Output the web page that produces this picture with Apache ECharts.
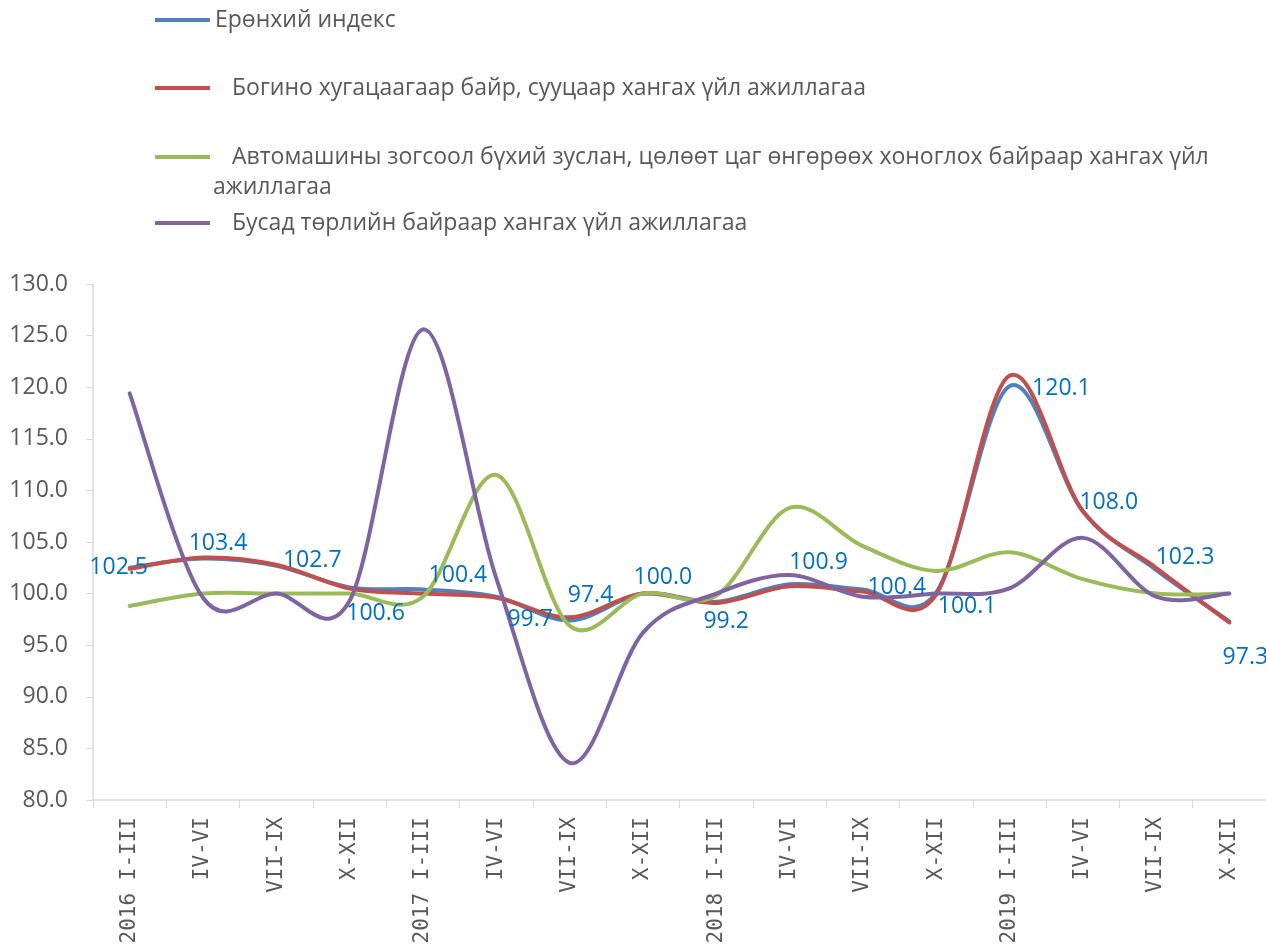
<!DOCTYPE html>
<html>
<head>
<meta charset="utf-8">
<script src="https://cdn.jsdelivr.net/npm/echarts@6/dist/echarts.min.js"></script>
<style>
  html, body { margin: 0; padding: 0; background: #fff; }
  #chart { width: 1266px; height: 947px; }
</style>
</head>
<body>
<div id="chart"></div>
<script>
// categories and series
var categories = ['2016 I-III', 'IV-VI', 'VII-IX', 'X-XII', '2017 I-III', 'IV-VI', 'VII-IX', 'X-XII',
                  '2018 I-III', 'IV-VI', 'VII-IX', 'X-XII', '2019 I-III', 'IV-VI', 'VII-IX', 'X-XII'];

var seriesNames = [
    'Ерөнхий индекс',
    'Богино хугацаагаар байр, сууцаар хангах үйл ажиллагаа',
    'Автомашины зогсоол бүхий зуслан, цөлөөт цаг өнгөрөөх хоноглох байраар хангах үйл',
    'Бусад төрлийн байраар хангах үйл ажиллагаа'
];
var wrapTail = 'ажиллагаа';

var general = [102.5, 103.4, 102.7, 100.6, 100.4, 99.7, 97.4, 100.0, 99.2, 100.9, 100.4, 100.1, 120.1, 108.0, 102.3, 97.3];
var shortStay = [102.4, 103.5, 102.8, 100.5, 100.0, 99.6, 97.7, 100.0, 99.1, 100.7, 100.2, 99.9, 121.1, 108.0, 102.5, 97.2];
var camping = [98.8, 100.0, 100.0, 100.0, 99.7, 111.5, 96.9, 100.0, 99.8, 108.3, 104.6, 102.2, 104.0, 101.4, 100.0, 100.0];
var other = [119.4, 99.6, 100.0, 99.3, 125.6, 101.5, 83.6, 96.2, 100.0, 101.8, 99.7, 100.0, 100.5, 105.4, 99.7, 100.0];

// where each value label sits relative to its point
var labelOffsets = [[-11, 0], [15, -15], [36, -5], [26, 26], [35, -14], [34, 23], [21, -25], [20, -16],
                    [10, 20], [29, -22], [34, -2], [31, 14], [52, 2], [26, -9], [29, -12], [16, 36]];

var colors = ['#4F81BD', '#C0504D', '#9BBB59', '#8064A2'];
var font = 'Open Sans';

var chart = echarts.init(document.getElementById('chart'), null, { renderer: 'canvas' });

// excel-style smoothing: catmull-rom through the projected points
function smoothLine(name, values, color) {
    return {
        name: name,
        type: 'custom',
        data: values.map(function (v, i) { return [i, v]; }),
        encode: { x: 0, y: 1 },
        itemStyle: { color: color },
        renderItem: function (params, api) {
            if (params.dataIndex !== 0) return null;
            var pts = values.map(function (v, i) { return api.coord([i, v]); });
            var n = pts.length;
            var d = 'M' + pts[0][0] + ' ' + pts[0][1];
            for (var i = 0; i < n - 1; i++) {
                var p0 = pts[Math.max(i - 1, 0)], p1 = pts[i], p2 = pts[i + 1], p3 = pts[Math.min(i + 2, n - 1)];
                var c1x = p1[0] + (p2[0] - p0[0]) / 6, c1y = p1[1] + (p2[1] - p0[1]) / 6;
                var c2x = p2[0] - (p3[0] - p1[0]) / 6, c2y = p2[1] - (p3[1] - p1[1]) / 6;
                d += ' C' + c1x + ' ' + c1y + ' ' + c2x + ' ' + c2y + ' ' + p2[0] + ' ' + p2[1];
            }
            return {
                type: 'path',
                shape: { pathData: d },
                style: { stroke: color, lineWidth: 4, fill: 'none', lineCap: 'round', lineJoin: 'round' }
            };
        }
    };
}

// invisible line carrying the value labels of the general index
var labelSeries = {
    name: 'labels',
    type: 'line',
    z: 5,
    data: general.map(function (v, i) {
        return { value: v, label: { offset: labelOffsets[i] } };
    }),
    symbol: 'circle',
    symbolSize: 0,
    lineStyle: { opacity: 0 },
    itemStyle: { color: 'transparent' },
    emphasis: { disabled: true },
    label: {
        show: true,
        position: 'inside',
        color: '#0070C0',
        fontFamily: font,
        fontSize: 23,
        formatter: function (p) { return p.value.toFixed(1); }
    }
};

var legendTops = [6, 74, 143, 209];
var legends = seriesNames.map(function (n, i) {
    return {
        data: [n],
        left: 155,
        top: legendTops[i],
        padding: 0,
        icon: 'rect',
        itemWidth: 55,
        itemHeight: 4,
        itemGap: 0,
        selectedMode: false,
        textStyle: {
            fontFamily: font,
            fontSize: 23,
            lineHeight: 28,
            color: '#595959',
            padding: [0, 0, 0, i === 0 ? 0 : 17]
        }
    };
});

chart.setOption({
    animation: false,
    color: colors,
    legend: legends,
    graphic: [{
        type: 'text',
        x: 213,
        y: 187,
        style: { text: wrapTail, fontFamily: font, fontSize: 23, fill: '#595959', verticalAlign: 'middle' }
    }],
    grid: { left: 93, right: 0, top: 284, bottom: 147 },
    xAxis: {
        type: 'category',
        data: categories,
        boundaryGap: true,
        axisLine: { lineStyle: { color: '#D9D9D9', width: 1.5 } },
        axisTick: { show: true, length: 8, lineStyle: { color: '#D9D9D9' } },
        axisLabel: {
            interval: 0,
            rotate: 90,
            margin: 17,
            color: '#595959',
            fontFamily: 'DejaVu Sans Mono',
            fontSize: 21
        }
    },
    yAxis: {
        type: 'value',
        min: 80,
        max: 130,
        interval: 5,
        axisLine: { show: true, lineStyle: { color: '#D9D9D9', width: 1.5 } },
        axisTick: { show: true, length: 7, lineStyle: { color: '#D9D9D9' } },
        splitLine: { show: false },
        axisLabel: {
            margin: 25,
            color: '#595959',
            fontFamily: font,
            fontSize: 23,
            formatter: function (v) { return v.toFixed(1); }
        }
    },
    series: [
        smoothLine(seriesNames[0], general, colors[0]),
        smoothLine(seriesNames[1], shortStay, colors[1]),
        smoothLine(seriesNames[2], camping, colors[2]),
        smoothLine(seriesNames[3], other, colors[3]),
        labelSeries
    ]
});
</script>
</body>
</html>
